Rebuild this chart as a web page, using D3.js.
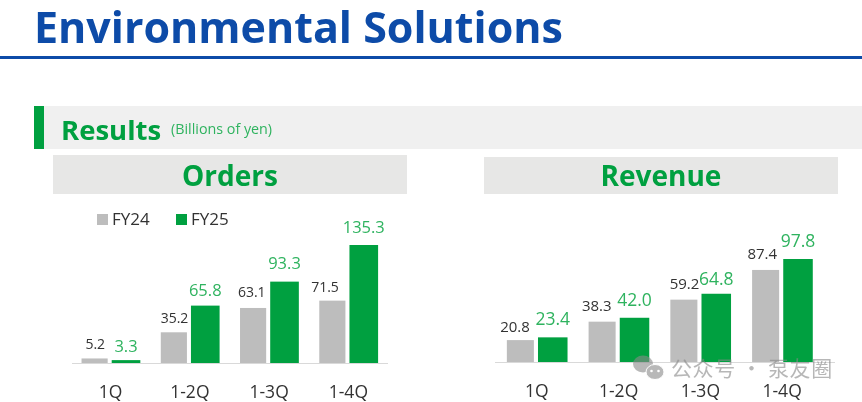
<!DOCTYPE html>
<html><head><meta charset="utf-8">
<script src="https://cdn.jsdelivr.net/npm/d3@7/dist/d3.min.js"></script>
<style>html,body{margin:0;padding:0;background:#fff}svg{display:block}text{font-family:"Open Sans","Noto Sans",sans-serif}</style>
</head><body><div id="c"></div>
<script>
const categories=["1Q","1-2Q","1-3Q","1-4Q"];
const seriesNames=["FY24","FY25"];
const ordersFY24=[5.2,35.2,63.1,71.5];
const ordersFY25=[3.3,65.8,93.3,135.3];
const revenueFY24=[20.8,38.3,59.2,87.4];
const revenueFY25=[23.4,42.0,64.8,97.8];
const GRAY="#bdbdbd",GREEN="#00a040",LABEL_GREEN="#2fb35f",INK="#333";
const svg=d3.select("#c").append("svg").attr("width",862).attr("height",402);
const defs=svg.append("defs");
defs.append("filter").attr("id","soft").append("feGaussianBlur").attr("stdDeviation",0.45);
const root=svg.append("g").attr("filter","url(#soft)");

root.append("text").attr("x",34).attr("y",43).attr("font-size",43).attr("font-weight",700).attr("fill","#0b4ba8").text("Environmental Solutions");
root.append("rect").attr("x",0).attr("y",56).attr("width",862).attr("height",3).attr("fill","#0b4ba8");
root.append("rect").attr("x",34).attr("y",106).attr("width",828).attr("height",43).attr("fill","#f0f0f0");
root.append("rect").attr("x",34).attr("y",106).attr("width",10).attr("height",43).attr("fill",GREEN);
root.append("text").attr("x",61).attr("y",140).attr("font-size",27.5).attr("font-weight",700).attr("fill",GREEN).text("Results");
root.append("text").attr("x",171).attr("y",134).attr("font-size",14.3).attr("fill",LABEL_GREEN).text("(Billions of yen)");

function panel(o){
  root.append("rect").attr("x",o.bx).attr("y",o.by).attr("width",o.bw).attr("height",o.bh).attr("fill","#e7e7e6");
  root.append("text").attr("x",o.bx+o.bw/2).attr("y",o.by+o.bh-8).attr("text-anchor","middle").attr("font-size",28).attr("font-weight",700).attr("fill",GREEN).text(o.title);
  const x=d3.scaleBand().domain(categories).range(o.xr).paddingInner(o.pad).paddingOuter(o.pad/2);
  const sub=d3.scaleBand().domain(seriesNames).range([0,x.bandwidth()]).paddingInner(0.07);
  const y=d3.scaleLinear().domain([0,o.ymax]).range([o.base,o.top]);
  const g=root.append("g");
  g.append("line").attr("x1",o.lx[0]).attr("x2",o.lx[1]).attr("y1",o.base+.5).attr("y2",o.base+.5).attr("stroke","#d9d9d9").attr("stroke-width",1);
  [[seriesNames[0],o.a,GRAY,INK],[seriesNames[1],o.b,GREEN,LABEL_GREEN]].forEach(([n,vals,fill,txt],si)=>{
    const inset=si?0:2.5;
    g.selectAll(null).data(vals).join("rect")
      .attr("x",(d,i)=>x(categories[i])+sub(n)+inset/4).attr("width",sub.bandwidth()-inset)
      .attr("y",d=>y(d)).attr("height",d=>o.base-y(d)).attr("fill",fill);
    g.selectAll(null).data(vals).join("text")
      .attr("x",(d,i)=>x(categories[i])+sub(n)+sub.bandwidth()/2+o.nudgeX[si][i])
      .attr("y",(d,i)=>y(d)-o.nudgeY[si][i])
      .attr("text-anchor","middle").attr("font-size",si?o.fs[1]:o.fs[0]).attr("fill",txt).text(d=>d.toFixed(1));
  });
  g.selectAll(null).data(categories).join("text").attr("x",d=>x(d)+x.bandwidth()/2).attr("y",o.base+35)
    .attr("text-anchor","middle").attr("font-size",17.5).attr("fill",INK).text(d=>d);
}
panel({title:"Orders",bx:53,by:155,bw:354,bh:39,a:ordersFY24,b:ordersFY25,xr:[71,388],pad:0.25,ymax:135.3,base:363,top:245,lx:[72,388],
  fs:[14,16.5],
  nudgeX:[[0,0,-2,-8],[0,0,0,0]],nudgeY:[[9,9,11,9],[8,10,13,12]]});
panel({title:"Revenue",bx:484,by:157,bw:354,bh:37,a:revenueFY24,b:revenueFY25,xr:[496,823],pad:0.25,ymax:97.8,base:362,top:259,lx:[495,835],
  fs:[15,17.5],
  nudgeX:[[-6,-6,0,-4],[0,0,0,0]],nudgeY:[[8,11,11,11],[12,12,9,12]]});

const lg=root.append("g");
[[97,GRAY,"FY24"],[176,GREEN,"FY25"]].forEach(([lx,c,t])=>{
  lg.append("rect").attr("x",lx).attr("y",214).attr("width",11).attr("height",11).attr("fill",c);
  lg.append("text").attr("x",lx+15).attr("y",225).attr("font-size",17).attr("fill",INK).text(t);
});

const wm=svg.append("g").attr("opacity",.6);
wm.append("ellipse").attr("cx",643).attr("cy",364).attr("rx",10).attr("ry",8.5).attr("fill","#8a8a8a");
wm.append("ellipse").attr("cx",655).attr("cy",372).attr("rx",9).attr("ry",7.5).attr("fill","#8a8a8a").attr("stroke","#fff").attr("stroke-width",1);
[[651.5,371],[658.5,371]].forEach(([cx,cy])=>wm.append("circle").attr("cx",cx).attr("cy",cy).attr("r",1.3).attr("fill","#fff"));
wm.append("text").attr("x",671).attr("y",376).attr("font-size",21).attr("fill","#888").attr("style",'font-family:"Noto Sans CJK SC";letter-spacing:.6px').text("公众号 · 泵友圈");
</script></body></html>
